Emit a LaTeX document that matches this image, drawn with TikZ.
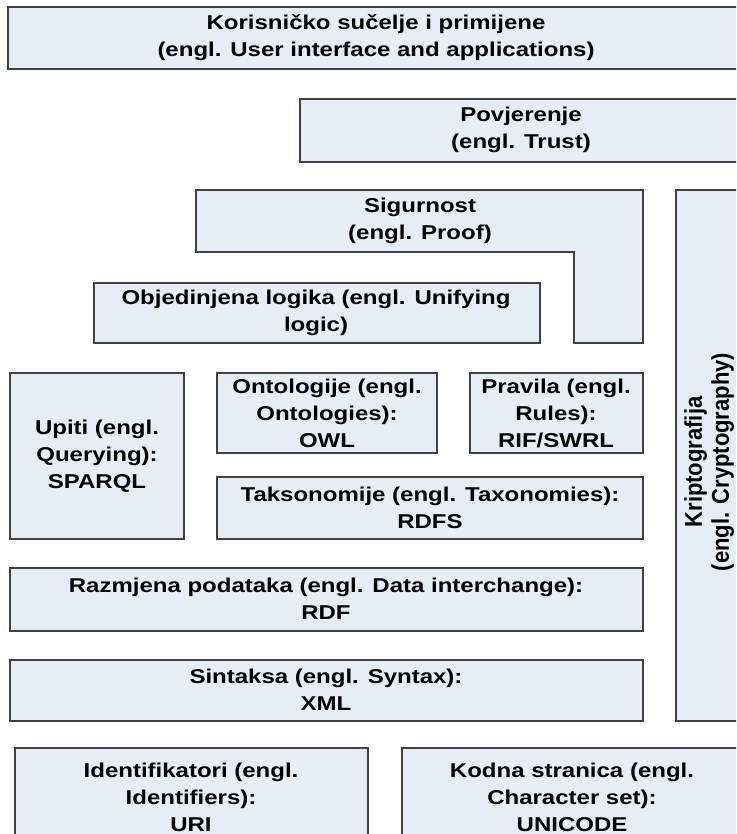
\documentclass[tikz,border=0pt]{standalone}
\usepackage{fontspec}
\usepackage{graphicx}
\setmainfont{Liberation Sans}[FakeStretch=1.2]
\newfontfamily\plainsans{Liberation Sans}
\definecolor{boxfill}{RGB}{231,237,247}
\definecolor{boxedge}{RGB}{64,64,64}
\begin{document}
\begin{tikzpicture}[x=1pt,y=-1pt,
  layer/.style={draw=boxedge,fill=boxfill,line width=1.4pt},
  lbl/.style={align=center,inner sep=0pt,font=\bfseries\fontsize{20}{27}\selectfont,text=black}]
\useasboundingbox (0,0) rectangle (736,834);
\clip (0,0) rectangle (736,834);
% boxes
\draw[layer] (8,7) rectangle (800,69);
\draw[layer] (300,99) rectangle (800,162);
\draw[layer] (196,190) -- (643,190) -- (643,343) -- (574,343) -- (574,252) -- (196,252) -- cycle;
\draw[layer] (676,190) rectangle (800,721);
\draw[layer] (94,283) rectangle (540,343);
\draw[layer] (10,373) rectangle (184,539);
\draw[layer] (217,373) rectangle (437,453);
\draw[layer] (470,373) rectangle (643,453);
\draw[layer] (217,477) rectangle (643,539);
\draw[layer] (10,568) rectangle (643,631);
\draw[layer] (10,660) rectangle (643,721);
\draw[layer] (15,748) rectangle (368,900);
\draw[layer] (402,748) rectangle (800,900);
% labels
\node[lbl] (ui) at (376,38) {Korisničko sučelje i primijene\\(engl. User interface and applications)};
\node[lbl] (trust) at (521,130) {Povjerenje\\(engl. Trust)};
\node[lbl] (proof) at (420,221) {Sigurnost\\(engl. Proof)};
\node[lbl] (logic) at (316,313) {Objedinjena logika (engl. Unifying\\logic)};
\node[inner sep=0pt] (crypto) at (710,462) {\rotatebox{90}{\scalebox{1}[1.1]{\plainsans\bfseries\fontsize{22}{24.5}\selectfont\begin{tabular}{@{}c@{}}Kriptografija\\(engl. Cryptography)\end{tabular}}}};
\node[lbl] (query) at (97,456) {Upiti (engl.\\Querying):\\SPARQL};
\node[lbl] (onto) at (327,413) {Ontologije (engl.\\Ontologies):\\OWL};
\node[lbl] (rules) at (556,413) {Pravila (engl.\\Rules):\\RIF/SWRL};
\node[lbl] (tax) at (430,508) {Taksonomije (engl. Taxonomies):\\RDFS};
\node[lbl] (rdf) at (326,599) {Razmjena podataka (engl. Data interchange):\\RDF};
\node[lbl] (xml) at (326,690) {Sintaksa (engl. Syntax):\\XML};
\node[lbl] (uri) at (191,797) {Identifikatori (engl.\\Identifiers):\\URI};
\node[lbl] (uni) at (572,797) {Kodna stranica (engl.\\Character set):\\UNICODE};
\end{tikzpicture}
\end{document}
